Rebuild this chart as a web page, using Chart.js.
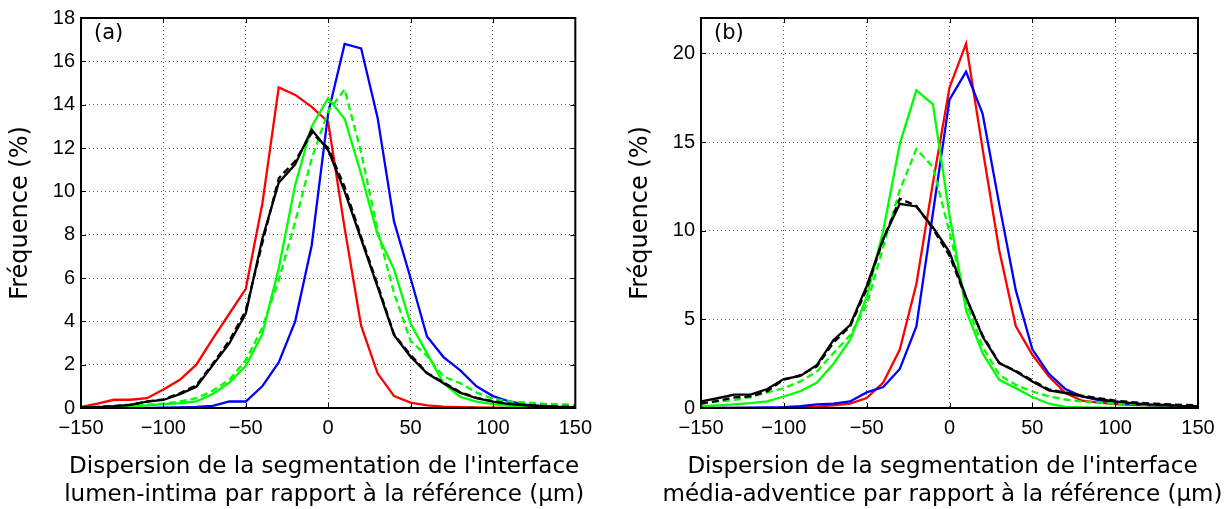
<!DOCTYPE html>
<html><head><meta charset="utf-8">
<script src="https://cdn.jsdelivr.net/npm/chart.js@4.4.1/dist/chart.umd.min.js"></script>
<style>
html,body{margin:0;padding:0;background:#fff;width:1229px;height:509px;overflow:hidden}
#ca{position:absolute;left:0;top:0}
#cb{position:absolute;left:620px;top:0}
</style></head><body>
<canvas id="ca" width="600" height="509"></canvas>
<canvas id="cb" width="609" height="509"></canvas>
<script>
// ---------- data ----------
const dispersion = [-150,-140,-130,-120,-110,-100,-90,-80,-70,-60,-50,-40,-30,-20,-10,0,10,20,30,40,50,60,70,80,90,100,110,120,130,140,150];
const xTicks = [-150,-100,-50,0,50,100,150];
const yTicksA = [0,2,4,6,8,10,12,14,16,18];
const yTicksB = [0,5,10,15,20];

// panel (a): lumen-intima
const redA    = [0.05,0.2,0.38,0.38,0.45,0.85,1.3,2.0,3.2,4.35,5.5,9.4,14.8,14.45,13.9,13.2,8.3,3.8,1.6,0.55,0.25,0.12,0.06,0.04,0.03,0.02,0.01,0.01,0,0,0];
const blueA   = [0,0,0,0,0.01,0.02,0.03,0.05,0.1,0.3,0.3,1.0,2.1,4.0,7.5,13.6,16.8,16.6,13.4,8.6,6.0,3.3,2.35,1.75,1.0,0.55,0.3,0.15,0.08,0.04,0.02];
const greenA  = [0,0.02,0.05,0.08,0.12,0.18,0.22,0.3,0.65,1.17,1.95,3.4,6.45,10.3,13.0,14.3,13.35,10.8,8.0,6.4,3.9,2.52,1.14,0.52,0.29,0.18,0.1,0.06,0.04,0.02,0.01];
const greenDA = [0,0.02,0.05,0.1,0.15,0.2,0.3,0.45,0.8,1.3,2.2,3.7,5.9,8.6,11.5,13.7,14.7,11.8,8.2,5.3,3.1,2.4,1.45,1.15,0.72,0.42,0.3,0.25,0.2,0.17,0.14];
const blackA  = [0.02,0.04,0.08,0.14,0.29,0.37,0.64,0.98,1.98,2.98,4.36,7.8,10.4,11.25,12.85,11.9,10.0,7.8,5.59,3.36,2.37,1.6,1.14,0.71,0.45,0.29,0.18,0.12,0.08,0.05,0.03];
const blackDA = [0.02,0.05,0.09,0.16,0.3,0.4,0.68,1.05,2.05,3.1,4.5,7.6,10.6,11.4,12.7,12.0,10.2,7.9,5.7,3.4,2.45,1.62,1.18,0.74,0.47,0.31,0.2,0.14,0.1,0.07,0.05];

// panel (b): media-adventice
const redB    = [0,0,0,0,0.01,0.02,0.04,0.08,0.15,0.25,0.56,1.44,3.3,7.0,12.7,18.07,20.55,14.6,8.9,4.62,3.0,1.78,0.84,0.41,0.3,0.22,0.18,0.15,0.12,0.1,0.08];
const blueB   = [0,0,0.01,0.02,0.03,0.05,0.1,0.2,0.25,0.37,0.88,1.18,2.2,4.6,11.0,17.4,18.97,16.6,11.5,6.65,3.31,1.93,1.07,0.65,0.45,0.3,0.22,0.17,0.13,0.1,0.08];
const greenB  = [0.1,0.15,0.2,0.27,0.37,0.65,0.95,1.44,2.5,3.84,6.27,10.0,14.9,17.92,17.13,10.9,5.5,3.09,1.59,1.12,0.62,0.24,0.06,0.03,0.02,0.01,0,0,0,0,0];
const greenDB = [0.25,0.37,0.45,0.62,0.88,1.12,1.5,2.06,3.1,4.1,5.8,9.1,12.3,14.6,13.6,9.9,6.0,3.46,1.87,1.3,0.93,0.65,0.48,0.37,0.3,0.25,0.22,0.18,0.15,0.12,0.1];
const blackB  = [0.37,0.55,0.75,0.75,1.07,1.63,1.81,2.43,3.84,4.68,6.87,9.55,11.52,11.37,10.2,8.8,6.27,4.02,2.53,2.06,1.5,0.99,0.84,0.65,0.5,0.37,0.28,0.2,0.17,0.12,0.1];
const blackDB = [0.25,0.4,0.6,0.65,0.95,1.6,1.85,2.35,3.7,4.6,6.7,9.5,11.8,11.4,10.1,8.6,6.2,4.1,2.55,2.1,1.55,1.05,0.88,0.7,0.55,0.42,0.33,0.26,0.22,0.18,0.15];

const xTitleA = ["Dispersion de la segmentation de l'interface", "lumen-intima par rapport à la référence (µm)"];
const xTitleB = ["Dispersion de la segmentation de l'interface", "média-adventice par rapport à la référence (µm)"];
const yTitle = "Fréquence (%)";

// ---------- rendering ----------
const fmt = v => v < 0 ? '\u2212' + Math.abs(v) : String(v);

const framePlugin = {
  id: 'frame',
  afterDatasetsDraw(chart, args, opts) {
    const {ctx, chartArea: a, scales: {x, y}} = chart;
    ctx.save();
    ctx.strokeStyle = '#000';
    ctx.lineWidth = 1;
    ctx.beginPath();
    const L = 5;
    x.ticks.forEach(t => {
      const px = Math.round(x.getPixelForValue(t.value)) + 0.5;
      ctx.moveTo(px, a.bottom); ctx.lineTo(px, a.bottom - L);
      ctx.moveTo(px, a.top); ctx.lineTo(px, a.top + L);
    });
    y.ticks.forEach(t => {
      const py = Math.round(y.getPixelForValue(t.value)) + 0.5;
      ctx.moveTo(a.left, py); ctx.lineTo(a.left + L, py);
      ctx.moveTo(a.right, py); ctx.lineTo(a.right - L, py);
    });
    ctx.stroke();
    ctx.lineWidth = 2;
    ctx.strokeRect(a.left, a.top, a.width, a.height);
    ctx.fillStyle = '#000';
    ctx.textBaseline = 'middle';
    ctx.textAlign = 'left';
    ctx.font = '21px "DejaVu Sans"';
    ctx.fillText(opts.tag, a.left + 13, a.top + 16);
    // x-axis title (two lines)
    ctx.textAlign = 'center';
    ctx.font = '23px "DejaVu Sans"';
    const cx = (a.left + a.right) / 2 + opts.shift;
    opts.xTitle.forEach((line, i) => ctx.fillText(line, cx, a.bottom + 59 + i * 28.5));
    ctx.restore();
  }
};

function makeChart(id, tag, series, yTicks, yMax, xTitle, padRight, padTop, shift) {
  const datasets = series.map(s => ({
    data: dispersion.map((x, i) => ({x: x, y: s.values[i]})),
    borderColor: s.color,
    borderWidth: 2.3,
    borderDash: s.dash ? [7, 4] : [],
    pointRadius: 0,
    tension: 0,
    fill: false,
    order: s.order
  }));
  return new Chart(document.getElementById(id), {
    type: 'line',
    data: {datasets},
    plugins: [framePlugin],
    options: {
      responsive: false,
      animation: false,
      devicePixelRatio: 1,
      layout: {padding: {left: 0, right: padRight, top: padTop, bottom: 0}},
      plugins: {legend: {display: false}, tooltip: {enabled: false}, frame: {tag, xTitle, shift}},
      scales: {
        x: {
          type: 'linear', min: -150, max: 150,
          afterBuildTicks: s => { s.ticks = xTicks.map(v => ({value: v})); },
          afterFit: s => { s.height = 101; },
          ticks: {callback: fmt, font: {family: 'Liberation Sans', size: 20}, color: '#000', padding: 8, maxRotation: 0, autoSkip: false},
          grid: {color: 'rgba(0,0,0,0.6)', lineWidth: 1, drawTicks: false},
          border: {display: false, dash: [1, 3]},
          title: {display: false}
        },
        y: {
          type: 'linear', min: 0, max: yMax,
          afterBuildTicks: s => { s.ticks = yTicks.map(v => ({value: v})); },
          afterFit: s => { s.width = 81; },
          ticks: {callback: fmt, font: {family: 'Liberation Sans', size: 20}, color: '#000', padding: 6},
          grid: {color: 'rgba(0,0,0,0.6)', lineWidth: 1, drawTicks: false},
          border: {display: false, dash: [1, 3]},
          title: {display: true, text: yTitle, font: {family: 'DejaVu Sans', size: 24, lineHeight: 1.23}, color: '#000', padding: {top: 6, bottom: 0}}
        }
      }
    }
  });
}

makeChart('ca', '(a)', [
  {values: redA, color: '#ff0000', order: 6},
  {values: blueA, color: '#0000ff', order: 5},
  {values: greenA, color: '#00ff00', order: 4},
  {values: greenDA, color: '#00ff00', dash: true, order: 3},
  {values: blackDA, color: '#000000', dash: true, order: 2},
  {values: blackA, color: '#000000', order: 1}
], yTicksA, 18, xTitleA, 21, 17, -4);

makeChart('cb', '(b)', [
  {values: redB, color: '#ff0000', order: 6},
  {values: blueB, color: '#0000ff', order: 5},
  {values: greenB, color: '#00ff00', order: 4},
  {values: greenDB, color: '#00ff00', dash: true, order: 3},
  {values: blackDB, color: '#000000', dash: true, order: 2},
  {values: blackB, color: '#000000', order: 1}
], yTicksB, 22, xTitleB, 31, 16, -7);
</script>
</body></html>
